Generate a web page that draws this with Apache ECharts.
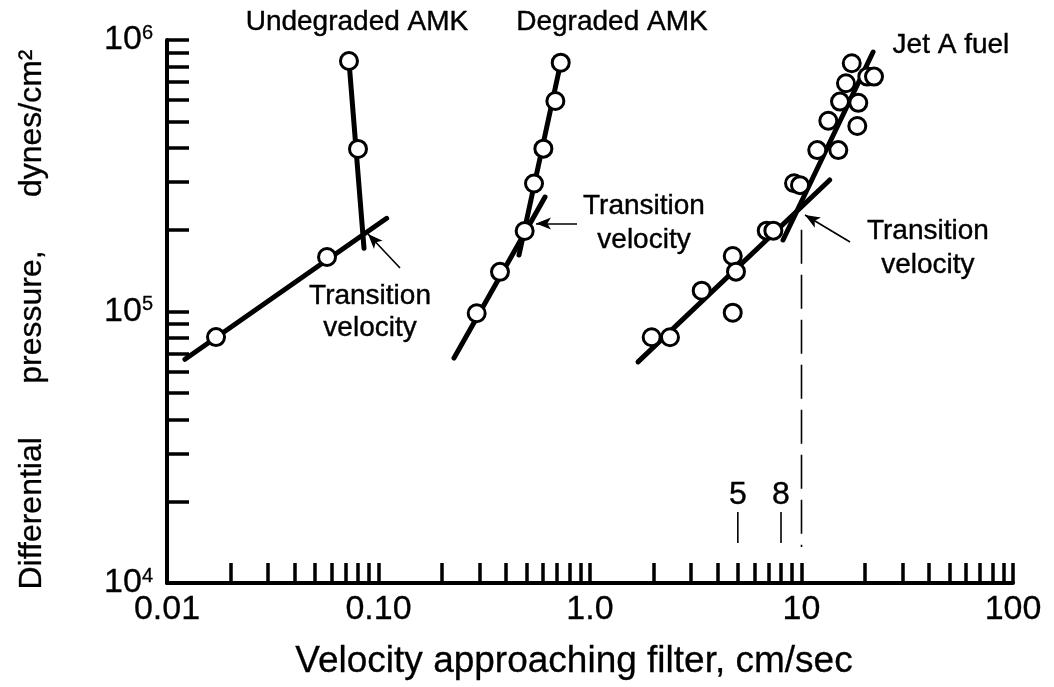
<!DOCTYPE html>
<html><head><meta charset="utf-8">
<script src="https://cdn.jsdelivr.net/npm/echarts@6/dist/echarts.min.js"></script>
<style>html,body{margin:0;padding:0;background:#fff}#c{width:1054px;height:687px}</style>
</head><body><div id="c"></div>
<script>
// ---- axis ticks / labels ----
const xLabelValues = [0.01, 0.1, 1, 10, 100];
const xTickLabels = ['0.01', '0.10', '1.0', '10', '100'];
const xTickValues = [0.01,0.02,0.03,0.04,0.05,0.06,0.07,0.08,0.09,
                     0.1,0.2,0.3,0.4,0.5,0.6,0.7,0.8,0.9,
                     1,2,3,4,5,6,7,8,9,
                     10,20,30,40,50,60,70,80,90,100];
const yTickValues = [1e4,2e4,3e4,4e4,5e4,6e4,7e4,8e4,9e4,
                     1e5,2e5,3e5,4e5,5e5,6e5,7e5,8e5,9e5,1e6];

// ---- data (velocity cm/sec, pressure dynes/cm^2) ----
const undegradedPoints = [[0.01705,8.05e4],[0.0571,1.587e5],[0.080,3.97e5],[0.0725,8.37e5]];
const undegradedLowFit = [[0.01216,6.67e4],[0.1093,2.204e5]];
const undegradedHighFit = [[0.0725,8.37e5],[0.0854,1.709e5]];

const degradedPoints = [[0.2912,9.85e4],[0.3753,1.40e5],[0.491,1.98e5],[0.5436,2.96e5],
                        [0.602,3.98e5],[0.686,5.96e5],[0.727,8.25e5]];
const degradedLowFit = [[0.2275,6.74e4],[0.6128,2.64e5]];
const degradedHighFit = [[0.727,8.25e5],[0.4617,1.615e5]];

const jetPoints = [[1.957,8.04e4],[2.389,8.04e4],[3.374,1.193e5],[4.73,1.601e5],[4.90,1.402e5],
                   [4.73,9.90e4],[6.85,1.985e5],[7.36,1.985e5],[9.22,2.967e5],[9.84,2.92e5],
                   [11.87,3.93e5],[14.93,3.93e5],[13.39,5.04e5],[18.36,4.82e5],[15.21,5.93e5],
                   [18.56,5.87e5],[16.23,6.93e5],[20.47,7.33e5],[22.02,7.33e5],[17.28,8.21e5]];
const jetLowFit = [[1.687,6.52e4],[13.6,3.05e5]];
const jetHighFit = [[21.8,9.03e5],[8.18,1.834e5]];

const transitionDashed = [[10,2.0e5],[10,1.357e4]];
const marker5 = [[5,1.404e4],[5,1.826e4]];
const marker8 = [[8,1.404e4],[8,1.826e4]];

const arrows = [
  [[0.1264,1.446e5],[0.0892,1.93e5]],
  [[0.868,2.11e5],[0.5555,2.11e5]],
  [[16.96,1.803e5],[10.39,2.267e5]]
];

const notes = [
  {text:'Undegraded AMK', at:[0.0791,1.165e6], size:28, lh:33},
  {text:'Degraded AMK', at:[1.27,1.165e6], size:28, lh:33},
  {text:'Jet A fuel', at:[50.9,9.58e5], size:28, lh:33},
  {text:'Transition\nvelocity', at:[0.0912,9.92e4], size:28, lh:32},
  {text:'Transition\nvelocity', at:[1.80,2.12e5], size:28, lh:34},
  {text:'Transition\nvelocity', at:[39.6,1.713e5], size:28, lh:34},
  {text:'5', at:[5,2.11e4], size:32, lh:34},
  {text:'8', at:[8,2.11e4], size:32, lh:34}
];

const FONT = "'Liberation Sans', Arial, Helvetica, sans-serif";
const INK = '#000';

function fitLine(data, w) {
  return {type:'line', data:data, symbol:'none', showSymbol:false, silent:true, animation:false,
    lineStyle:{color:INK, width:w || 5, cap:'round'}, z:3};
}
function thinLine(data, dashed) {
  return {type:'line', data:data, symbol:'none', showSymbol:false, silent:true, animation:false,
    lineStyle:{color:INK, width:1.6, type: dashed ? [34, 11] : 'solid'}, z:3};
}
function points(data) {
  return {type:'scatter', data:data, symbol:'circle', symbolSize:17, silent:true, animation:false,
    itemStyle:{color:'#fff', borderColor:INK, borderWidth:3, opacity:1}, z:5};
}

const chart = echarts.init(document.getElementById('c'), null, {renderer:'canvas'});
chart.setOption({
  backgroundColor:'#fff',
  animation:false,
  grid:{left:167, right:41, top:40, bottom:104, containLabel:false, outerBoundsMode:'none'},
  xAxis:{
    type:'log', logBase:10, min:0.01, max:100,
    name:'Velocity approaching filter, cm/sec', nameLocation:'middle', nameGap:60,
    nameMoveOverlap:false,
    nameTextStyle:{fontFamily:FONT, fontSize:37, color:INK, padding:[0,32,0,0],
      textBorderColor:INK, textBorderWidth:0.3},
    axisLine:{show:true, lineStyle:{color:INK, width:4}},
    axisTick:{show:true, inside:true, length:20, customValues:xTickValues, lineStyle:{color:INK, width:3.5}},
    minorTick:{show:false},
    splitLine:{show:false},
    axisLabel:{show:true, customValues:xLabelValues, margin:10, fontFamily:FONT, fontSize:34, color:INK,
      textBorderColor:INK, textBorderWidth:0.3,
      showMinLabel:true, showMaxLabel:true,
      formatter:function(v){ const i = Math.round(Math.log10(v)) + 2; return xTickLabels[i] || ''; }}
  },
  yAxis:{
    type:'log', logBase:10, min:1e4, max:1e6,
    name:'Differential      pressure,      dynes/cm²', nameLocation:'middle', nameGap:119, nameRotate:90,
    nameMoveOverlap:false,
    nameTextStyle:{fontFamily:FONT, fontSize:32, color:INK, padding:[0,16,0,0],
      textBorderColor:INK, textBorderWidth:0.3},
    axisLine:{show:true, lineStyle:{color:INK, width:4}},
    axisTick:{show:true, inside:true, length:22, customValues:yTickValues, lineStyle:{color:INK, width:3.5}},
    minorTick:{show:false},
    splitLine:{show:false},
    axisLabel:{show:true, margin:14, color:INK, showMinLabel:true, showMaxLabel:true,
      formatter:function(v){ return '{b|10}{s|' + Math.round(Math.log10(v)) + '}'; },
      rich:{
        b:{fontFamily:FONT, fontSize:34, lineHeight:34, color:INK, textBorderColor:INK, textBorderWidth:0.3},
        s:{fontFamily:FONT, fontSize:20, lineHeight:20, color:INK, verticalAlign:'top', textBorderColor:INK, textBorderWidth:0.3}
      }}
  },
  series:[
    fitLine(undegradedLowFit), fitLine(undegradedHighFit),
    fitLine(degradedLowFit), fitLine(degradedHighFit),
    fitLine(jetLowFit), fitLine(jetHighFit),
    thinLine(transitionDashed, true), thinLine(marker5), thinLine(marker8),
    points(undegradedPoints), points(degradedPoints), points(jetPoints),
    {
      type:'scatter', data:[], silent:true, animation:false,
      markLine:{silent:true, animation:false, symbol:['none','arrow'], symbolSize:[9,15],
        label:{show:false}, lineStyle:{color:INK, width:1.6, type:'solid'},
        data: arrows.map(a => [{coord:a[0]}, {coord:a[1]}])}
    },
    {
      type:'scatter', clip:false, silent:true, animation:false, z:10,
      symbol:'circle', symbolSize:1, itemStyle:{color:'rgba(0,0,0,0)'},
      data: notes.map(n => ({value:n.at, name:n.text,
        label:{show:true, position:'inside', formatter:n.text, fontFamily:FONT, fontSize:n.size,
               lineHeight:n.lh, color:INK, opacity:1, align:'center', verticalAlign:'middle',
               textBorderColor:INK, textBorderWidth:0.4}}))
    }
  ]
});
</script></body></html>
